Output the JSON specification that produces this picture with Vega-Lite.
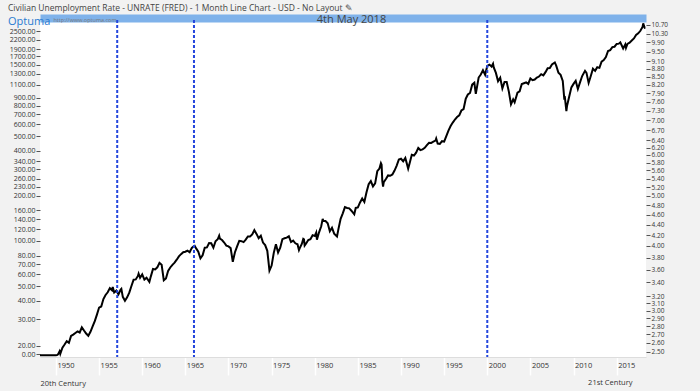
{
  "$schema": "https://vega.github.io/schema/vega-lite/v6.json",
  "width": 606,
  "height": 337,
  "autosize": {"type": "none"},
  "padding": {"left": 40, "top": 20, "right": 54, "bottom": 34},
  "background": "#f2f2f2",
  "config": {
    "view": {"stroke": null, "fill": "white"},
    "font": "Open Sans",
    "axis": {"labelFont": "Open Sans", "titleFont": "Open Sans"},
    "title": {"font": "Open Sans"}
  },
  "title": {
    "text": "Civilian Unemployment Rate - UNRATE (FRED) - 1 Month Line Chart - USD - No Layout  ✎",
    "subtitle": "Optuma",
    "anchor": "start",
    "frame": "group",
    "dx": -32,
    "dy": 13,
    "fontSize": 8.5,
    "fontWeight": "normal",
    "color": "#444444",
    "subtitleFontSize": 11,
    "subtitleColor": "#2a7bd1",
    "subtitlePadding": 3,
    "offset": 0
  },
  "datasets": {
    "sp500": [
      {"t": 1948.15, "v": 17.3}, {"t": 1949.0, "v": 17.3}, {"t": 1950.0, "v": 17.3}, {"t": 1950.17, "v": 17.4},
      {"t": 1950.25, "v": 17.6}, {"t": 1950.42, "v": 18.4}, {"t": 1950.5, "v": 17.7}, {"t": 1950.75, "v": 19.45},
      {"t": 1951.0, "v": 20.41}, {"t": 1951.25, "v": 21.48}, {"t": 1951.5, "v": 20.96}, {"t": 1951.75, "v": 23.26},
      {"t": 1952.0, "v": 23.77}, {"t": 1952.25, "v": 24.37}, {"t": 1952.5, "v": 24.96}, {"t": 1952.75, "v": 24.54},
      {"t": 1953.0, "v": 26.57}, {"t": 1953.25, "v": 25.29}, {"t": 1953.5, "v": 24.14}, {"t": 1953.75, "v": 23.35},
      {"t": 1954.0, "v": 24.81}, {"t": 1954.25, "v": 26.94}, {"t": 1954.5, "v": 29.21}, {"t": 1954.75, "v": 32.31},
      {"t": 1955.0, "v": 35.98}, {"t": 1955.25, "v": 36.58}, {"t": 1955.5, "v": 41.03}, {"t": 1955.75, "v": 43.67},
      {"t": 1956.0, "v": 45.48}, {"t": 1956.25, "v": 48.48}, {"t": 1956.5, "v": 46.97}, {"t": 1956.58, "v": 49.39},
      {"t": 1956.75, "v": 45.35}, {"t": 1957.0, "v": 46.67}, {"t": 1957.25, "v": 44.11}, {"t": 1957.5, "v": 47.37},
      {"t": 1957.58, "v": 47.91}, {"t": 1957.75, "v": 42.42}, {"t": 1958.0, "v": 39.99}, {"t": 1958.25, "v": 42.1},
      {"t": 1958.5, "v": 45.24}, {"t": 1958.75, "v": 50.06}, {"t": 1959.0, "v": 55.21}, {"t": 1959.25, "v": 55.44},
      {"t": 1959.5, "v": 58.47}, {"t": 1959.58, "v": 60.51}, {"t": 1959.75, "v": 56.88}, {"t": 1960.0, "v": 59.89},
      {"t": 1960.25, "v": 55.34}, {"t": 1960.5, "v": 56.92}, {"t": 1960.83, "v": 53.39}, {"t": 1961.0, "v": 58.11},
      {"t": 1961.25, "v": 65.06}, {"t": 1961.5, "v": 64.64}, {"t": 1961.75, "v": 66.73}, {"t": 1962.0, "v": 71.55},
      {"t": 1962.25, "v": 69.55}, {"t": 1962.5, "v": 54.75}, {"t": 1962.75, "v": 56.27}, {"t": 1963.0, "v": 63.1},
      {"t": 1963.25, "v": 66.57}, {"t": 1963.5, "v": 69.37}, {"t": 1963.75, "v": 71.7}, {"t": 1964.0, "v": 75.02},
      {"t": 1964.25, "v": 78.98}, {"t": 1964.5, "v": 81.69}, {"t": 1964.75, "v": 84.18}, {"t": 1965.0, "v": 84.75},
      {"t": 1965.25, "v": 86.16}, {"t": 1965.5, "v": 84.12}, {"t": 1965.75, "v": 89.96}, {"t": 1966.0, "v": 92.43},
      {"t": 1966.08, "v": 92.88}, {"t": 1966.25, "v": 89.23}, {"t": 1966.5, "v": 84.74}, {"t": 1966.75, "v": 76.56},
      {"t": 1967.0, "v": 80.33}, {"t": 1967.25, "v": 90.2}, {"t": 1967.5, "v": 90.64}, {"t": 1967.75, "v": 96.71},
      {"t": 1968.0, "v": 96.47}, {"t": 1968.25, "v": 90.2}, {"t": 1968.5, "v": 99.58}, {"t": 1968.75, "v": 102.67},
      {"t": 1968.92, "v": 108.37}, {"t": 1969.0, "v": 103.86}, {"t": 1969.25, "v": 101.51}, {"t": 1969.5, "v": 97.71},
      {"t": 1969.75, "v": 93.12}, {"t": 1970.0, "v": 92.06}, {"t": 1970.25, "v": 89.63}, {"t": 1970.5, "v": 72.72},
      {"t": 1970.75, "v": 84.21}, {"t": 1971.0, "v": 92.15}, {"t": 1971.25, "v": 100.31}, {"t": 1971.5, "v": 99.7},
      {"t": 1971.75, "v": 98.34}, {"t": 1972.0, "v": 102.09}, {"t": 1972.25, "v": 107.2}, {"t": 1972.5, "v": 107.14},
      {"t": 1972.75, "v": 110.55}, {"t": 1973.0, "v": 118.05}, {"t": 1973.25, "v": 111.52}, {"t": 1973.5, "v": 104.26},
      {"t": 1973.75, "v": 108.43}, {"t": 1974.0, "v": 97.55}, {"t": 1974.25, "v": 93.98}, {"t": 1974.5, "v": 86.0},
      {"t": 1974.75, "v": 63.54}, {"t": 1975.0, "v": 68.56}, {"t": 1975.25, "v": 83.36}, {"t": 1975.5, "v": 95.19},
      {"t": 1975.75, "v": 83.87}, {"t": 1976.0, "v": 90.19}, {"t": 1976.25, "v": 102.77}, {"t": 1976.5, "v": 104.28},
      {"t": 1976.75, "v": 105.24}, {"t": 1977.0, "v": 107.46}, {"t": 1977.25, "v": 98.42}, {"t": 1977.5, "v": 100.48},
      {"t": 1977.75, "v": 96.53}, {"t": 1978.0, "v": 95.1}, {"t": 1978.17, "v": 87.04}, {"t": 1978.25, "v": 89.21},
      {"t": 1978.5, "v": 95.53}, {"t": 1978.67, "v": 103.29}, {"t": 1978.75, "v": 102.54}, {"t": 1978.83, "v": 93.15},
      {"t": 1979.0, "v": 96.11}, {"t": 1979.25, "v": 101.59}, {"t": 1979.5, "v": 102.91}, {"t": 1979.75, "v": 109.32},
      {"t": 1980.0, "v": 107.94}, {"t": 1980.17, "v": 113.66}, {"t": 1980.25, "v": 102.09}, {"t": 1980.5, "v": 114.24},
      {"t": 1980.75, "v": 125.46}, {"t": 1980.92, "v": 140.52}, {"t": 1981.0, "v": 135.76}, {"t": 1981.25, "v": 136.0},
      {"t": 1981.5, "v": 131.21}, {"t": 1981.75, "v": 116.18}, {"t": 1982.0, "v": 122.55}, {"t": 1982.25, "v": 111.96},
      {"t": 1982.58, "v": 107.09}, {"t": 1982.75, "v": 120.42}, {"t": 1983.0, "v": 140.64}, {"t": 1983.25, "v": 152.96},
      {"t": 1983.5, "v": 168.11}, {"t": 1983.75, "v": 166.07}, {"t": 1984.0, "v": 164.93}, {"t": 1984.25, "v": 159.18},
      {"t": 1984.58, "v": 150.66}, {"t": 1984.75, "v": 166.1}, {"t": 1985.0, "v": 167.24}, {"t": 1985.25, "v": 180.66},
      {"t": 1985.5, "v": 191.85}, {"t": 1985.75, "v": 182.08}, {"t": 1986.0, "v": 211.28}, {"t": 1986.25, "v": 238.9},
      {"t": 1986.5, "v": 250.84}, {"t": 1986.75, "v": 231.32}, {"t": 1987.0, "v": 242.17}, {"t": 1987.25, "v": 291.7},
      {"t": 1987.5, "v": 304.0}, {"t": 1987.67, "v": 329.8}, {"t": 1987.75, "v": 321.83}, {"t": 1987.83, "v": 251.79},
      {"t": 1987.92, "v": 230.3}, {"t": 1988.0, "v": 247.08}, {"t": 1988.25, "v": 258.89}, {"t": 1988.5, "v": 273.5},
      {"t": 1988.75, "v": 271.91}, {"t": 1989.0, "v": 277.72}, {"t": 1989.25, "v": 294.87}, {"t": 1989.5, "v": 317.98},
      {"t": 1989.75, "v": 349.15}, {"t": 1990.0, "v": 353.4}, {"t": 1990.25, "v": 339.94}, {"t": 1990.5, "v": 358.02},
      {"t": 1990.83, "v": 304.0}, {"t": 1991.0, "v": 330.22}, {"t": 1991.25, "v": 375.22}, {"t": 1991.5, "v": 371.16},
      {"t": 1991.75, "v": 387.86}, {"t": 1992.0, "v": 417.09}, {"t": 1992.25, "v": 403.69}, {"t": 1992.5, "v": 408.14},
      {"t": 1992.75, "v": 417.8}, {"t": 1993.0, "v": 435.71}, {"t": 1993.25, "v": 451.67}, {"t": 1993.5, "v": 450.53},
      {"t": 1993.75, "v": 458.93}, {"t": 1994.0, "v": 466.45}, {"t": 1994.08, "v": 481.61}, {"t": 1994.25, "v": 445.77},
      {"t": 1994.5, "v": 444.27}, {"t": 1994.75, "v": 462.69}, {"t": 1995.0, "v": 459.27}, {"t": 1995.25, "v": 500.71},
      {"t": 1995.5, "v": 544.75}, {"t": 1995.75, "v": 584.41}, {"t": 1996.0, "v": 615.93}, {"t": 1996.25, "v": 645.5},
      {"t": 1996.5, "v": 670.63}, {"t": 1996.75, "v": 687.31}, {"t": 1997.0, "v": 740.74}, {"t": 1997.25, "v": 757.12},
      {"t": 1997.5, "v": 885.14}, {"t": 1997.75, "v": 947.28}, {"t": 1998.0, "v": 970.43}, {"t": 1998.25, "v": 1101.75},
      {"t": 1998.5, "v": 1133.84}, {"t": 1998.67, "v": 957.28}, {"t": 1998.75, "v": 1017.01}, {"t": 1999.0, "v": 1229.23},
      {"t": 1999.25, "v": 1286.37}, {"t": 1999.5, "v": 1372.71}, {"t": 1999.75, "v": 1282.71}, {"t": 2000.0, "v": 1469.25},
      {"t": 2000.25, "v": 1498.58}, {"t": 2000.5, "v": 1454.6}, {"t": 2000.67, "v": 1517.68}, {"t": 2000.75, "v": 1436.51},
      {"t": 2001.0, "v": 1320.28}, {"t": 2001.25, "v": 1160.33}, {"t": 2001.5, "v": 1224.42}, {"t": 2001.75, "v": 1040.94},
      {"t": 2002.0, "v": 1148.08}, {"t": 2002.25, "v": 1147.39}, {"t": 2002.5, "v": 989.82}, {"t": 2002.75, "v": 815.28},
      {"t": 2003.0, "v": 879.82}, {"t": 2003.17, "v": 841.15}, {"t": 2003.5, "v": 974.5}, {"t": 2003.75, "v": 995.97},
      {"t": 2004.0, "v": 1111.92}, {"t": 2004.25, "v": 1126.21}, {"t": 2004.5, "v": 1140.84}, {"t": 2004.75, "v": 1114.58},
      {"t": 2005.0, "v": 1211.92}, {"t": 2005.25, "v": 1180.59}, {"t": 2005.5, "v": 1191.33}, {"t": 2005.75, "v": 1228.81},
      {"t": 2006.0, "v": 1248.29}, {"t": 2006.25, "v": 1294.83}, {"t": 2006.5, "v": 1270.2}, {"t": 2006.75, "v": 1335.85},
      {"t": 2007.0, "v": 1418.3}, {"t": 2007.25, "v": 1420.86}, {"t": 2007.5, "v": 1503.35}, {"t": 2007.83, "v": 1549.38},
      {"t": 2008.0, "v": 1468.36}, {"t": 2008.25, "v": 1322.7}, {"t": 2008.5, "v": 1280.0}, {"t": 2008.75, "v": 1166.36},
      {"t": 2008.92, "v": 896.24}, {"t": 2009.0, "v": 903.25}, {"t": 2009.17, "v": 735.09}, {"t": 2009.25, "v": 797.87},
      {"t": 2009.5, "v": 919.32}, {"t": 2009.75, "v": 1057.08}, {"t": 2010.0, "v": 1115.1}, {"t": 2010.25, "v": 1169.43},
      {"t": 2010.5, "v": 1030.71}, {"t": 2010.75, "v": 1141.2}, {"t": 2011.0, "v": 1257.64}, {"t": 2011.33, "v": 1363.61},
      {"t": 2011.5, "v": 1320.64}, {"t": 2011.75, "v": 1131.42}, {"t": 2012.0, "v": 1257.6}, {"t": 2012.25, "v": 1408.47},
      {"t": 2012.5, "v": 1362.16}, {"t": 2012.75, "v": 1440.67}, {"t": 2013.0, "v": 1426.19}, {"t": 2013.25, "v": 1569.19},
      {"t": 2013.5, "v": 1606.28}, {"t": 2013.75, "v": 1681.55}, {"t": 2014.0, "v": 1848.36}, {"t": 2014.25, "v": 1872.34},
      {"t": 2014.5, "v": 1960.23}, {"t": 2014.75, "v": 1972.29}, {"t": 2015.0, "v": 2058.9}, {"t": 2015.25, "v": 2067.89},
      {"t": 2015.42, "v": 2107.39}, {"t": 2015.75, "v": 1920.03}, {"t": 2016.0, "v": 2043.94}, {"t": 2016.08, "v": 1940.24},
      {"t": 2016.25, "v": 2059.74}, {"t": 2016.5, "v": 2098.86}, {"t": 2016.75, "v": 2168.27}, {"t": 2017.0, "v": 2238.83},
      {"t": 2017.25, "v": 2362.72}, {"t": 2017.5, "v": 2423.41}, {"t": 2017.75, "v": 2519.36}, {"t": 2018.0, "v": 2673.61},
      {"t": 2018.08, "v": 2823.81}, {"t": 2018.17, "v": 2713.83}, {"t": 2018.25, "v": 2640.87}, {"t": 2018.33, "v": 2648.05}
    ],
    "peaks": [{"year": 1957.1}, {"year": 1966.0}, {"year": 2000.0}]
  },
  "layer": [
    {
      "layer": [
        {
          "data": {"name": "sp500"},
          "mark": {"type": "line", "color": "#000000", "strokeWidth": 2},
          "encoding": {
            "x": {
              "field": "t", "type": "quantitative",
              "scale": {"domain": [1948.15, 2018.4], "nice": false, "zero": false},
              "axis": {
                "orient": "bottom",
                "values": [1950, 1955, 1960, 1965, 1970, 1975, 1980, 1985, 1990, 1995, 2000, 2005, 2010, 2015],
                "format": "d",
                "labelAlign": "left",
                "labelOffset": 1,
                "labelBaseline": "top",
                "labelPadding": -14,
                "tickSize": 18,
                "tickColor": "#ffffff",
                "tickWidth": 1.5,
                "domain": true,
                "domainColor": "#dddddd",
                "grid": false,
                "labelFontSize": 7.5,
                "labelColor": "#333333",
                "labelFlush": false,
                "labelBound": false,
                "labelOverlap": false,
                "title": "20th Century",
                "titleAnchor": "start",
                "titleAlign": "left",
                "titleX": 0,
                "titleY": 28,
                "titleBaseline": "alphabetic",
                "titleFontSize": 7.5,
                "titleFontWeight": "normal",
                "titleColor": "#333333"
              }
            },
            "y": {
              "field": "v", "type": "quantitative",
              "scale": {"type": "log", "domain": [16.85, 2973], "nice": false},
              "axis": {
                "orient": "left",
                "values": [17.6, 20, 30, 40, 50, 60, 70, 80, 100, 120, 140, 160, 200, 230, 260, 300, 340, 400, 500, 600, 700, 800, 900, 1100, 1300, 1500, 1700, 1900, 2200, 2500],
                "labelExpr": "datum.value < 19 ? '0.00' : format(datum.value, '.2f')",
                "grid": false,
                "domain": false,
                "tickSize": 4,
                "tickColor": "#555555",
                "labelPadding": 1,
                "labelFontSize": 7,
                "labelColor": "#333333",
                "labelOverlap": false,
                "labelBound": false,
                "labelFlush": false,
                "title": "http://www.optuma.com",
                "titleAngle": 0,
                "titleX": 13,
                "titleY": -1,
                "titleAlign": "left",
                "titleBaseline": "middle",
                "titleFontSize": 5.5,
                "titleFontWeight": "normal",
                "titleColor": "#777777"
              }
            }
          }
        },
        {
          "data": {"name": "peaks"},
          "mark": {"type": "rule", "color": "#2446dd", "strokeWidth": 2, "strokeDash": [3, 2]},
          "encoding": {
            "x": {
              "field": "year", "type": "quantitative",
              "axis": {
                "orient": "top",
                "offset": 2,
                "domain": true,
                "domainColor": "#7fb2ea",
                "domainWidth": 8,
                "ticks": false,
                "labels": false,
                "grid": false,
                "title": "4th May 2018",
                "titleX": 311,
                "titleY": 1.5,
                "titleAlign": "center",
                "titleBaseline": "middle",
                "titleFontSize": 11,
                "titleFontWeight": "normal",
                "titleColor": "#444444"
              }
            }
          }
        },
        {
          "mark": {"type": "text", "fontSize": 15, "font": "Open Sans", "color": "#000000", "align": "center", "baseline": "middle"},
          "encoding": {
            "x": {"datum": 1978.5, "type": "quantitative", "axis": null},
            "y": {"datum": 1490, "type": "quantitative"},
            "text": {"value": "S&P 500"}
          }
        }
      ],
      "resolve": {"axis": {"x": "independent"}}
    },
    {
      "mark": {"type": "rule", "strokeOpacity": 0},
      "encoding": {
        "y": {
          "datum": 5, "type": "quantitative",
          "scale": {"type": "log", "domain": [2.44, 10.94], "nice": false},
          "axis": {
            "orient": "right",
            "values": [2.5, 2.6, 2.7, 2.8, 2.9, 3.0, 3.1, 3.2, 3.4, 3.6, 3.8, 4.0, 4.2, 4.4, 4.6, 4.8, 5.0, 5.2, 5.4, 5.6, 5.8, 6.0, 6.2, 6.4, 6.7, 7.0, 7.3, 7.6, 7.9, 8.2, 8.5, 8.8, 9.1, 9.5, 9.9, 10.3, 10.7],
            "format": ".2f",
            "tickSize": 4,
            "tickColor": "#555555",
            "labelPadding": 1,
            "domain": false,
            "grid": false,
            "labelFontSize": 6.5,
            "labelColor": "#333333",
            "labelOverlap": false,
            "labelBound": false,
            "labelFlush": false,
            "title": "21st Century",
            "titleAngle": 0,
            "titleX": -14,
            "titleY": 364,
            "titleAlign": "right",
            "titleBaseline": "alphabetic",
            "titleFontSize": 7.5,
            "titleFontWeight": "normal",
            "titleColor": "#333333"
          }
        }
      }
    }
  ],
  "resolve": {"scale": {"y": "independent"}}
}
